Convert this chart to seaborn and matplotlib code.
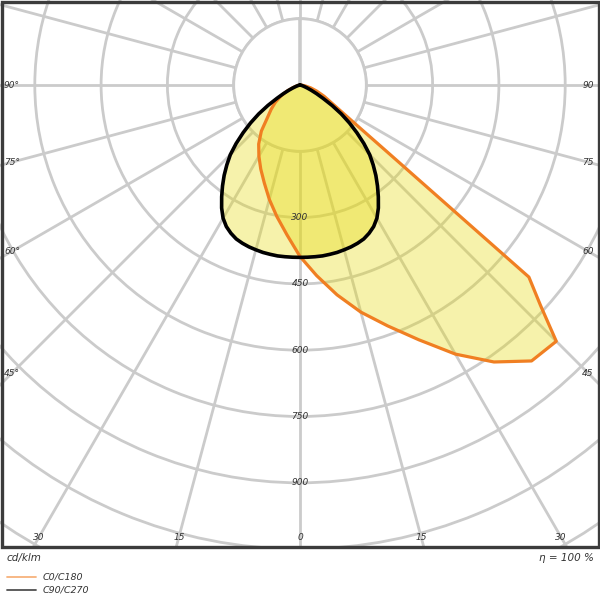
import numpy as np
import pandas as pd
import matplotlib
matplotlib.use('Agg')
import matplotlib.pyplot as plt
from matplotlib.lines import Line2D
from matplotlib.patches import Rectangle
import seaborn as sns

# luminous intensity (cd/klm) against gamma angle (deg from nadir)
# C0 half plane drawn to the right, C180 half plane to the left
gamma_c0 = [0, 5, 10, 15, 20, 25, 30, 35, 40, 45, 47.5, 50, 52.5, 55, 60, 65, 70, 75, 80, 85, 90]
cd_c0 = [388, 433, 482, 532, 580, 636, 703, 765, 815, 820, 738, 676, 248, 150, 85, 60, 40, 25, 12, 4, 0]
gamma_c180 = [0, 5, 10, 15, 20, 25, 30, 35, 40, 45, 50, 55, 60, 65, 70, 75, 80, 85, 90]
cd_c180 = [388, 340, 302, 268, 236, 210, 186, 163, 136, 104, 85, 68, 50, 32, 16, 7, 2, 0, 0]

# C90 to the right, C270 to the left
gamma_c90 = [0, 2.5, 5, 7.5, 10, 12.5, 15, 17.5, 20, 22.5, 25, 27.5, 30, 32.5, 35, 37.5,
             40, 42.5, 45, 47.5, 50, 52.5, 55, 57.5, 60, 62.5, 65, 67.5, 70, 72.5, 75,
             77.5, 80, 82.5, 85, 87.5, 90]
cd_c90 = [390, 390, 390, 390, 389, 388, 386, 384, 381, 377, 370, 361, 348, 330, 309, 288,
          267, 245, 223, 196, 168, 141, 114, 86, 60, 42, 28, 18, 11, 7, 4,
          2, 1, 0, 0, 0, 0]
cd_c270 = [390, 390, 390, 390, 389, 388, 386, 384, 381, 377, 370, 361, 348, 330, 309, 288,
           267, 245, 223, 196, 168, 141, 114, 86, 60, 42, 28, 18, 11, 7, 4,
           2, 1, 0, 0, 0, 0]

ring_values = [150, 300, 450, 600, 750, 900, 1050, 1200]
ring_labels = [300, 450, 600, 750, 900]
side_angles = [90, 75, 60, 45]
bottom_angles = [30, 15, 0]

R_MAX = 1300
PX_PER_CD = 0.442
CX, CY = 300, 85          # pole position in pixels (from top-left)
W, H = 600, 600
FRAME_BOTTOM = 547

grid_col = '#cbcbcb'
fill_col = '#e6da0e'
orange = '#f07f22'
text_col = '#333333'


def half_planes(g_right, r_right, g_left, r_left):
    theta = np.radians(np.concatenate([-np.array(g_left[::-1]), np.array(g_right[1:])]))
    r = np.concatenate([np.array(r_left[::-1]), np.array(r_right[1:])])
    return pd.DataFrame({'theta': theta, 'cd': r})


df_c0 = half_planes(gamma_c0, cd_c0, gamma_c180, cd_c180)
df_c90 = half_planes(gamma_c90, cd_c90, gamma_c90, cd_c270)

sns.set_theme(style='white')
plt.rcParams['font.family'] = ['DejaVu Sans']

fig = plt.figure(figsize=(6, 6), dpi=100)
rad = R_MAX * PX_PER_CD
ax = fig.add_axes([(CX - rad) / W, (H - CY - rad) / H, 2 * rad / W, 2 * rad / H],
                  projection='polar')
ax.set_theta_zero_location('S')
ax.set_theta_direction(1)
ax.set_ylim(0, R_MAX)
ax.set_thetagrids(np.arange(0, 360, 15), labels=[])
ax.set_rgrids(ring_values, labels=[])
ax.grid(True, color=grid_col, lw=2.0)
ax.set_axisbelow(True)
ax.spines['polar'].set_visible(False)

# blank hub inside the first ring
ax.bar(0, ring_values[0], width=2 * np.pi, bottom=0, color='white',
       edgecolor=grid_col, lw=2.0, zorder=1)

ax.fill(df_c0['theta'], df_c0['cd'], color=fill_col, alpha=0.35, lw=0, zorder=2)
ax.fill(df_c90['theta'], df_c90['cd'], color=fill_col, alpha=0.35, lw=0, zorder=2)
sns.lineplot(data=df_c0, x='theta', y='cd', sort=False, estimator=None, ax=ax,
             color=orange, lw=2.3, zorder=3)
sns.lineplot(data=df_c90, x='theta', y='cd', sort=False, estimator=None, ax=ax,
             color='black', lw=2.6, zorder=4)
ax.set_xlabel('')
ax.set_ylabel('')
ax.set_ylim(0, R_MAX)

for v in ring_labels:
    ax.text(0, v, str(v), ha='center', va='center', fontsize=6.5,
            style='italic', color=text_col, zorder=5)

# white band under the frame and the frame itself
fig.add_artist(Rectangle((0, 0), 1, (H - FRAME_BOTTOM) / H, transform=fig.transFigure,
                         facecolor='white', edgecolor='none', zorder=10))
fig.add_artist(Rectangle((1.5 / W, (H - FRAME_BOTTOM) / H), (W - 3) / W,
                         (FRAME_BOTTOM - 1.5) / H, transform=fig.transFigure,
                         facecolor='none', edgecolor='#3c3c3c', lw=2.4, zorder=11))


def fig_text(px, py, s, **kw):
    fig.text(px / W, 1 - py / H, s, fontsize=kw.pop('fontsize', 6.5), style='italic',
             color=text_col, zorder=12, **kw)


side_dx = 288
for a in side_angles:
    dy = side_dx / np.tan(np.radians(a)) if a != 90 else 0
    fig_text(CX - side_dx, CY + dy, f'{a}°', ha='center', va='center')
    fig_text(CX + side_dx, CY + dy, f'{a}', ha='center', va='center')
bottom_dy = FRAME_BOTTOM - 10 - CY
for a in bottom_angles:
    dx = bottom_dy * np.tan(np.radians(a))
    fig_text(CX - dx, CY + bottom_dy, f'{a}', ha='center', va='center')
    if a != 0:
        fig_text(CX + dx, CY + bottom_dy, f'{a}', ha='center', va='center')

fig_text(7, 558, 'cd/klm', ha='left', va='center', fontsize=7.5)
fig_text(594, 558, 'η = 100 %', ha='right', va='center', fontsize=7.5)

legend_items = [('C0/C180', '#f7b27c', 577), ('C90/C270', '#505050', 590)]
for name, col, py in legend_items:
    fig.add_artist(Line2D([7 / W, 36 / W], [1 - py / H, 1 - py / H],
                          transform=fig.transFigure, color=col, lw=1.3, zorder=12))
    fig_text(43, py, name, ha='left', va='center', fontsize=6.8)

fig.savefig('out.png', dpi=100)
